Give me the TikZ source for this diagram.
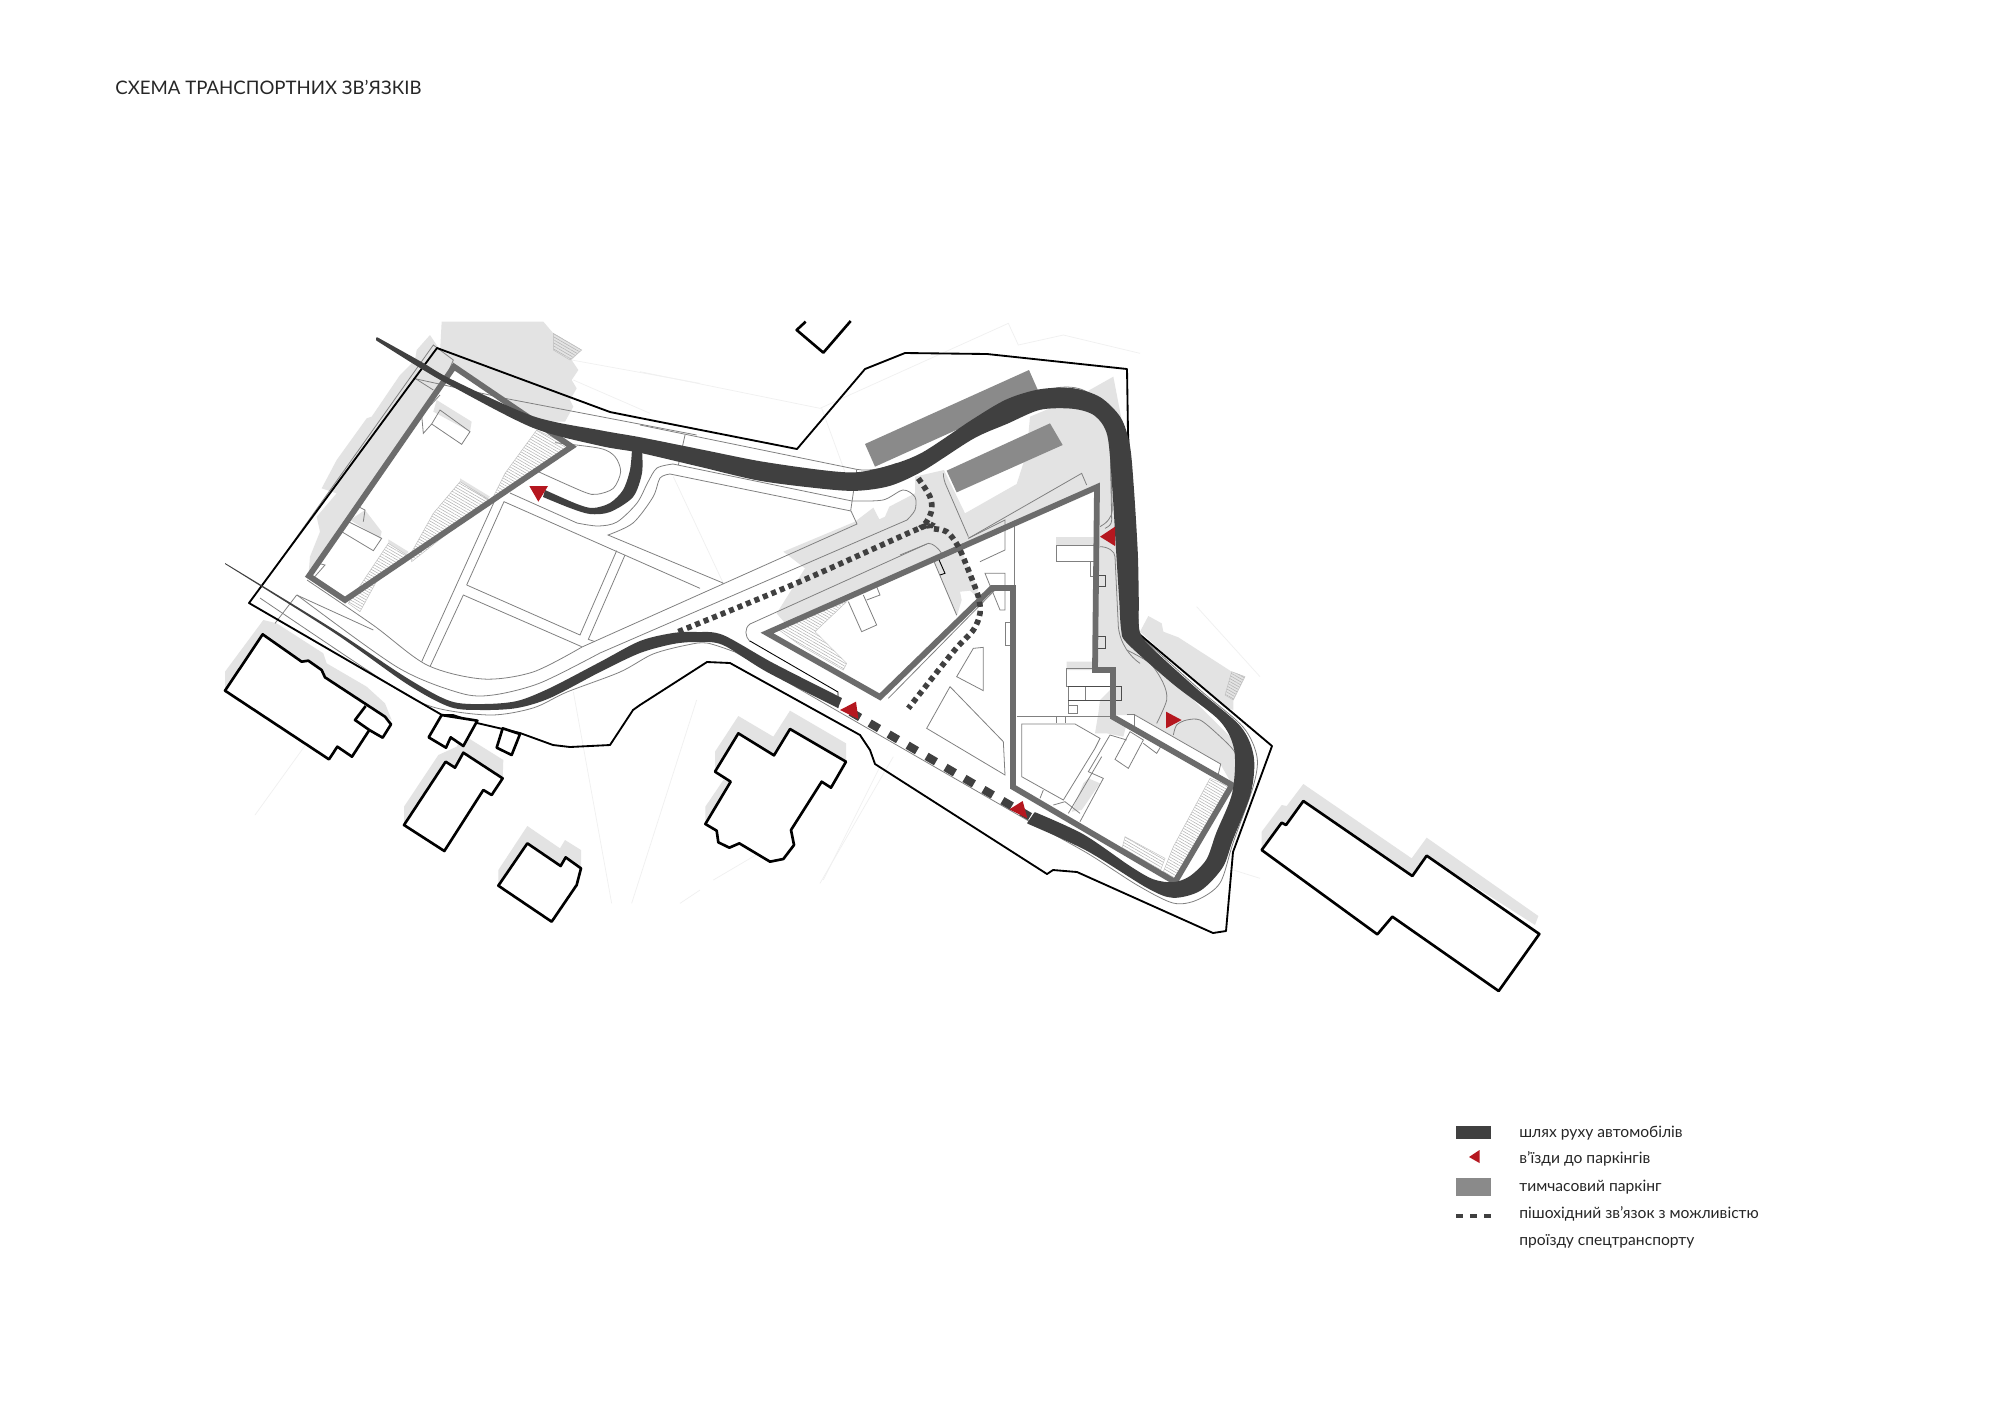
\documentclass[tikz,border=0pt]{standalone}
\usepackage{fontspec}
\setmainfont{Lato}
\usetikzlibrary{patterns.meta}
\definecolor{roadc}{HTML}{404040}
\definecolor{wallc}{HTML}{6C6C6C}
\definecolor{parkc}{HTML}{8A8A8A}
\definecolor{shadec}{HTML}{E3E3E3}
\definecolor{entryc}{HTML}{B5171F}
\definecolor{thinc}{HTML}{808080}
\definecolor{faintc}{HTML}{F0F0F0}
\tikzset{
  cropA/.style={shift={(200,300)},scale=1/3},
  cropB/.style={shift={(640,320)},scale=1/3},
  cropC/.style={shift={(820,600)},scale=1/3},
  cropD/.style={shift={(200,620)},scale=1/3},
  cropE/.style={shift={(1230,780)},scale=1/3},
  cropF/.style={shift={(1000,650)},scale=1/3},
  cropG/.style={shift={(900,440)},scale=1/3},
  cropH/.style={shift={(690,700)},scale=1/3},
  cropI/.style={shift={(230,310)},scale=1/3},
  thinline/.style={draw=thinc,line width=.45pt},
  faintline/.style={draw=faintc,line width=.4pt},
  parcel/.style={draw=black,line width=1.05pt,line join=round},
  house/.style={draw=black,fill=white,line width=1.5pt,line join=round},
  shade/.style={fill=shadec},
  parking/.style={fill=parkc},
  wall/.style={draw=wallc,line width=3.3pt,line join=miter},
  road/.style={fill=roadc,draw=roadc,line width=.9pt,line join=round},
  entry/.style={fill=entryc},
  stairs/.style={draw=thinc!50,line width=.25pt,pattern={Lines[angle=-30,distance=1.5pt,line width=.3pt]},pattern color=thinc!60},
  walkway/.style={draw=roadc,line width=3.2pt,dash pattern=on 2.9pt off 2.3pt},
  firelane/.style={draw=roadc,line width=4.6pt,dash pattern=on 6.2pt off 6.3pt},
  label/.style={inner sep=0pt,anchor=base west,text=black!85}
}
\begin{document}
\begin{tikzpicture}[x=0.02cm,y=-0.02cm]
\useasboundingbox (0,0) rectangle (2000,1414);
\fill[white] (0,0) rectangle (2000,1414);
% faint background lines
\begin{scope}[cropB]
\draw[faintline] (0,155) -- (540,265) -- (1105,10) -- (1135,75) -- (1270,45) -- (1500,100);
\draw[faintline] (545,265) -- (620,470);
\draw[faintline] (100,470) -- (250,790);
\end{scope}
\begin{scope}[cropD]
\draw[faintline] (165,585) -- (320,370);
\draw[faintline] (1120,215) -- (1235,850);
\draw[faintline] (1295,850) -- (1490,240);
\draw[faintline] (1440,850) -- (1500,810);
\end{scope}
\begin{scope}[cropC]
\draw[faintline] (0,850) -- (220,470);
\draw[faintline] (1240,810) -- (1320,835);
\draw[faintline] (1130,20) -- (1320,230);
\end{scope}
\begin{scope}[cropA]
\draw[faintline] (1115,180) -- (1500,250);
\draw[faintline] (1120,240) -- (1350,340);
\end{scope}
\begin{scope}[cropH]
\draw[faintline] (400,540) -- (570,200);
\draw[faintline] (70,540) -- (240,440);
\end{scope}
% shadows on the ground
\begin{scope}[cropA]
\fill[shade] (725,65) -- (1030,65) -- (1060,100) -- (1145,150) -- (1115,180) -- (1135,210) -- (1115,240) -- (1130,265) -- (1110,300) -- (1120,320) -- (1095,365) -- (1000,365) -- (760,200) -- (720,160) -- cycle;
\fill[shade] (690,105) -- (650,150) -- (645,180) -- (600,225) -- (515,350) -- (500,355) -- (410,480) -- (365,565) -- (410,580) -- (350,650) -- (360,695) -- (330,770) -- (325,830) -- (760,200) -- (720,150) -- cycle;
\fill[shade] (710,300) -- (815,365) -- (810,395) -- (700,335) -- cycle;
\fill[shade] (495,630) -- (545,695) -- (540,715) -- (450,660) -- cycle;
\fill[shade] (565,718) -- (625,755) -- (620,765) -- (565,730) -- cycle;
\fill[shade] (780,535) -- (870,590) -- (860,600) -- (780,545) -- cycle;
\end{scope}
\begin{scope}[cropB]
\fill[shade] (430,695) -- (645,605) -- (700,563) -- (718,598) -- (735,590) -- (748,560) -- (825,520) -- (825,470) -- (912,450) -- (975,580) -- (1130,492) -- (1150,430) -- (1165,345) -- (1170,290) -- (1230,265) -- (1340,215) -- (1420,170) -- (1445,300) -- (1450,640) -- (1470,900) -- (1500,1040) -- (1420,1050) -- (1365,1050) -- (1365,500) -- (440,915) -- (410,880) -- (495,745) -- cycle;
\fill[shade] (880,720) -- (950,890) -- (965,840) -- (960,815) -- (990,812) -- (1005,825) -- (1015,810) -- (955,670) -- cycle;
\end{scope}
\begin{scope}[cropC]
\fill[shade] (830,0) -- (900,0) -- (905,90) -- (960,140) -- (1240,420) -- (1250,500) -- (1240,560) -- (1200,490) -- (945,345) -- (880,345) -- (885,205) -- (830,210) -- cycle;
\fill[shade] (960,95) -- (985,48) -- (1025,70) -- (1030,95) -- (1075,112) -- (1235,215) -- (1275,230) -- (1240,300) -- (1240,330) -- (1210,320) -- cycle;
\end{scope}
\begin{scope}[cropF]
\fill[shade] (300,150) -- (340,110) -- (345,200) -- (380,220) -- (370,260) -- (320,250) -- (285,250) -- (295,190) -- cycle;
\fill[shade] (250,400) -- (265,385) -- (300,400) -- (245,480) -- (215,485) -- cycle;
\fill[shade] (200,35) -- (280,35) -- (285,60) -- (200,60) -- cycle;
\end{scope}
\begin{scope}[cropG]
\fill[shade] (468,290) -- (582,290) -- (582,315) -- (468,315) -- cycle;
\end{scope}
% shadows of the neighbouring houses
\begin{scope}[cropD]
\fill[shade] (75,155) -- (190,0) -- (230,10) -- (370,100) -- (380,130) -- (500,200) -- (555,250) -- (575,300) -- (555,290) -- (375,172) -- (188,43) -- (75,212) -- cycle;
\fill[shade] (612,612) -- (612,560) -- (715,405) -- (770,380) -- (790,345) -- (910,420) -- (908,475) -- (790,398) -- (765,443) -- (737,425) -- cycle;
\fill[shade] (895,797) -- (895,750) -- (982,618) -- (1080,685) -- (1095,660) -- (1143,690) -- (1143,745) -- (1097,712) -- (1082,738) -- (982,670) -- cycle;
\end{scope}
\begin{scope}[cropH]
\fill[shade] (75,215) -- (75,155) -- (145,48) -- (250,110) -- (300,32) -- (468,130) -- (468,185) -- (300,87) -- (252,166) -- (145,100) -- cycle;
\fill[shade] (46,372) -- (46,320) -- (100,240) -- (122,245) -- cycle;
\end{scope}
\begin{scope}[cropE]
\fill[shade] (95,210) -- (95,155) -- (155,75) -- (170,78) -- (220,12) -- (545,235) -- (590,173) -- (925,408) -- (915,435) -- (590,227) -- (547,288) -- (220,63) -- (168,135) -- (155,128) -- cycle;
\end{scope}
% stairs
\begin{scope}[cropA]
\path[stairs] (1010,390) -- (1115,440) -- (870,610) -- (915,520) -- cycle;
\path[stairs] (780,545) -- (870,600) -- (635,785) -- (630,765) -- (700,640) -- cycle;
\path[stairs] (565,730) -- (620,765) -- (540,825) -- (480,935) -- (445,910) -- cycle;
\path[stairs] (1060,100) -- (1145,150) -- (1110,180) -- (1060,150) -- cycle;
\end{scope}
\begin{scope}[cropB]
\path[stairs] (410,925) -- (620,845) -- (525,935) -- (580,990) -- (620,1030) -- (610,1050) -- (480,975) -- cycle;
\end{scope}
\begin{scope}[cropC]
\path[stairs] (1170,535) -- (1232,560) -- (1070,840) -- (1030,815) -- (1060,740) -- cycle;
\path[stairs] (915,710) -- (1035,775) -- (1020,815) -- (905,750) -- cycle;
\path[stairs] (1235,215) -- (1275,230) -- (1240,300) -- (1215,285) -- cycle;
\end{scope}
% paths and fields, long curves
\draw[thinline] plot[smooth] coordinates {(307,580) (373,625) (427,665) (483,679) (533,672) (582,647)} -- (857,524) -- (851,511) -- (670,474) -- plot[smooth] coordinates {(670,474) (660,478) (653,497) (633,523) (608,535)} -- (723,583);
\draw[thinline] plot[smooth] coordinates {(297,595) (397,667) (460,693) (493,695) (540,683) (600,653)} -- (907,520) -- plot[smooth] coordinates {(907,520) (915,510) (915,497) (903,490) (883,500) (852,501)} -- (673,464) -- plot[smooth] coordinates {(673,464) (657,468) (648,482) (637,503) (617,522) (598,526) (577,523)} -- (510,493);
\draw[thinline] plot[smooth] coordinates {(260,598) (387,683) (433,707) (490,715) (533,708) (567,692) (620,672) (653,654) (687,645) (707,643) (735,652)} -- (1027,820) -- plot[smooth] coordinates {(1027,820) (1087,853) (1137,885) (1173,903) (1197,900) (1220,883) (1233,843) (1253,787) (1257,757) (1243,727) (1200,690) (1139,635)};
\begin{scope}[cropA]
\draw[thinline] plot[smooth] coordinates {(1065,428) (1200,445) (1245,470) (1262,515) (1240,565) (1190,583) (1150,575) (1015,515)};
\draw[thinline] (800,855) -- (912,605) -- (1500,865);
\draw[thinline] (800,855) -- (1140,1005) -- (1250,752);
\draw[thinline] (1275,765) -- (1165,1018) -- (1185,1025);
\draw[thinline] (885,600) -- (665,1085);
\draw[thinline] (690,1100) -- (790,885) -- (1145,1040);
\draw[thinline] (640,235) -- (915,295) -- (1490,405);
\draw[thinline] (720,330) -- (810,395) -- (785,433) -- (695,372) -- cycle;
\draw[thinline] (695,372) -- (670,400) -- (665,345) -- (720,285);
\draw[thinline] (445,665) -- (545,715) -- (520,752) -- (425,695);
\draw[thinline] (465,615) -- (495,630) -- (490,665);
\draw[thinline] (290,885) -- (225,970);
\end{scope}
\begin{scope}[cropI]
\draw[thinline] (130,780) -- (610,105) -- (670,150) -- (640,220);
\draw[thinline] (555,205) -- (610,240);
\draw[thinline] (200,855) -- (430,960);
\draw[thinline] (250,805) -- (285,765) -- (265,760);
\end{scope}
\begin{scope}[cropB]
\draw[thinline] (0,315) -- (650,448) .. controls (690,455) and (730,445) .. (770,430);
\draw[thinline] (135,345) -- (115,435);
\draw[thinline] (650,450) -- (632,572);
\draw[thinline] (1195,218) .. controls (1240,200) and (1310,190) .. (1350,222);
\draw[thinline] (1410,350) -- (1415,600) .. controls (1415,615) and (1405,620) .. (1395,625);
\draw[thinline] (625,845) -- (665,935) -- (710,915) -- (670,825);
\draw[thinline] (665,815) -- (710,800) -- (720,825) -- (680,840);
\draw[thinline] (1030,982) -- (1030,1112) -- (950,1070) -- (1000,985) -- cycle;
\draw[thinline] (930,1100) -- (1090,1265) -- (1095,1365) -- (860,1225) -- cycle;
\draw[thinline] (745,1135) -- (1065,810);
\draw[thinline] (1300,1190) -- (1130,1190);
\draw[thinline] (860,672) -- (330,912) .. controls (312,925) and (315,950) .. (330,965);
\end{scope}
\draw[black,line width=.5pt] (750,641) -- (838,692) -- (838,708);
\begin{scope}[cropG]
\draw[thinline] (130,100) .. controls (130,115) and (135,130) .. (140,140) -- (205,290);
\draw[thinline] (100,360) -- (170,525);
\draw[black,line width=.5pt] (115,355) -- (135,400) -- (120,405);
\draw[thinline] (0,345) -- (85,310) .. controls (100,310) and (115,325) .. (125,340);
\draw[thinline] (205,295) -- (545,100) -- (560,135);
\draw[thinline] (343,255) -- (343,440);
\draw[thinline] (205,295) -- (315,240) -- (315,330) -- (240,365);
\draw[thinline] (255,400) -- (315,400) -- (315,510) -- (300,510) -- cycle;
\draw[thinline] (315,548) -- (335,548) -- (335,615) -- (315,615) -- cycle;
\draw[thinline] (468,315) -- (582,315) -- (582,365) -- (468,365) -- cycle;
\draw[thinline] (570,365) -- (570,408) -- (590,408);
\draw[black!70,line width=.45pt] (595,405) -- (615,405) -- (615,440) -- (595,440);
\draw[black!70,line width=.45pt] (595,590) -- (615,590) -- (615,625) -- (595,625);
\draw[thinline] (630,0) -- (637,210) .. controls (637,230) and (620,250) .. (600,260);
\draw[thinline] (600,320) .. controls (625,320) and (645,335) .. (645,350) -- (655,560) .. controls (660,610) and (690,650) .. (720,670);
\end{scope}
\begin{scope}[cropF]
\draw[thinline] (200,55) -- (335,55) -- (335,108) -- (200,108) -- cycle;
\draw[thinline] (205,110) -- (205,190);
\draw[black!70,line width=.45pt] (205,110) -- (365,110) -- (365,150) -- (205,150);
\draw[thinline] (255,110) -- (255,150);
\draw[thinline] (205,165) -- (232,165) -- (232,190) -- (205,190);
\draw[thinline] (50,200) -- (340,200);
\draw[thinline] (168,200) -- (168,220);
\draw[thinline] (197,200) -- (197,220);
\draw[thinline] (65,222) -- (225,222) -- (300,265) -- (285,295) -- (190,450) -- (65,380) -- cycle;
\draw[thinline] (240,515) -- (310,385) -- (265,365) -- (330,255) -- (380,270);
\draw[thinline] (205,490) -- (305,320);
\draw[thinline] (390,245) -- (430,270) -- (385,355) -- (345,328) -- cycle;
\draw[thinline] (405,195) -- (662,342) -- (655,372);
\draw[thinline] (380,192) -- (403,192) -- (403,228);
\draw[thinline] (130,420) -- (120,445);
\draw[thinline] (160,465) -- (195,455) -- (240,490);
\draw[thinline] (430,280) -- (470,310) -- (482,290);
\draw[thinline] plot[smooth] coordinates {(380,0) (450,40) (490,100) (500,150) (470,220)};
\draw[thinline] plot[smooth] coordinates {(520,255) (530,225) (560,210) (600,210) (650,250) (700,300) (715,340) (700,410)};
\end{scope}
% temporary parking
\begin{scope}[cropB]
\fill[parking] (675,372) -- (1167,150) -- (1197,218) -- (705,440) -- cycle;
\fill[parking] (920,452) -- (1230,310) -- (1268,375) -- (950,517) -- cycle;
\end{scope}
% buildings
\begin{scope}[cropA]
\draw[wall] (762,200) -- (1115,440) -- (435,900) -- (327,828) -- cycle;
\end{scope}
\draw[wall] (767,633) -- (1097,487) -- (1095,670) -- (1113,670) -- (1113,717) -- (1232,785) -- (1175,882) -- (1013,787) -- (1013,588) -- (992,588) -- (880,697) -- cycle;
% parcel
\draw[parcel] (249,603) -- (437,348) -- (610,412) -- (640,418) -- (797,449) -- (865,369) -- (905,353) -- (987,354) -- (1127,369) -- (1128,433) -- (1138,633) -- (1272,746) -- (1233,852) -- (1226,931) -- (1213,933) -- (1077,872) -- (1053,870) -- (1047,874) -- (875,764) -- (870,750) -- (860,735) -- (730,663) -- (707,662) -- (640,705) -- (633,710) -- (610,745) -- (570,747) -- (553,745) -- (520,733) -- (477,723) -- (453,715) -- (442,715) -- cycle;
% roads
\path[road] plot[smooth] coordinates {(377,338) (420,362) (453,381) (533,417) (600,431) (640,438) (700,450) (760,462) (823,471) (857,473) (890,466) (923,453) (973,420) (1007,400) (1040,390) (1073,389) (1100,398) (1120,418) (1129,445) (1133,487) (1137,553) (1138,600) (1139,632) (1153,650) (1197,690) (1240,727) (1253,757) (1250,793) (1232,840) (1222,867) (1200,890) (1173,897) (1147,887) (1087,850) (1028,823)} -- plot[smooth] coordinates {(1035,813) (1083,835) (1130,867) (1153,880) (1173,883) (1190,877) (1207,860) (1217,833) (1233,793) (1235,750) (1220,720) (1173,683) (1128,643) (1122,630) (1120,600) (1117,553) (1113,487) (1108,435) (1095,415) (1073,408) (1040,409) (1007,423) (973,438) (923,470) (890,485) (857,490) (823,488) (760,480) (700,466) (640,452) (600,445) (533,427) (453,386) (420,367) (377,340)} -- cycle;
\fill[roadc] plot[smooth] coordinates {(225,563) (333,629) (407,678) (450,701) (483,704) (517,701) (550,688) (600,662) (640,641) (673,633) (697,632) (723,635) (773,663) (842,698)} -- plot[smooth] coordinates {(838,708) (767,672) (723,645) (697,642) (673,644) (640,653) (600,672) (550,698) (517,708) (483,710) (450,707) (407,684) (333,632) (225,564)} -- cycle;
\fill[roadc] plot[smooth] coordinates {(642,450) (642,473) (633,497) (610,512) (590,514) (570,508) (543,497)} -- plot[smooth] coordinates {(545,490) (577,504) (593,508) (610,503) (623,490) (630,470) (632,449)} -- cycle;
% pedestrian links
\begin{scope}[cropB]
\draw[walkway] plot[smooth] coordinates {(115,935) (475,787) (845,622) (870,625) (920,635) (955,680) (985,750) (1015,830) (1020,880) (1000,930) (940,995) (805,1165)};
\draw[walkway] plot[smooth] coordinates {(835,475) (870,530) (875,570) (860,605) (840,625)};
\end{scope}
\begin{scope}[cropC]
\draw[firelane] (92,336) -- (630,650);
\end{scope}
% parking entries
\foreach \pA/\pB/\pC in {{cropA}/{988,558}/{1044,558,1015,605},{cropB}/{1380,650}/{1425,620,1425,678},{cropB}/{600,1170}/{648,1145,655,1197},{cropC}/{568,628}/{608,603,622,655},{cropC}/{1038,335}/{1085,360,1038,385}}{
  \begin{scope}[\pA]
  \pgfmathsetmacro{\qAx}{{\pB}[0]}\pgfmathsetmacro{\qAy}{{\pB}[1]}
  \pgfmathsetmacro{\qBx}{{\pC}[0]}\pgfmathsetmacro{\qBy}{{\pC}[1]}
  \pgfmathsetmacro{\qCx}{{\pC}[2]}\pgfmathsetmacro{\qCy}{{\pC}[3]}
  \fill[entry] (\qAx,\qAy) -- (\qBx,\qBy) -- (\qCx,\qCy) -- cycle;
  \end{scope}
}
% neighbouring houses
\begin{scope}[cropD]
\draw[house] (188,43) -- (305,125) -- (325,122) -- (365,150) -- (375,172) -- (555,290) -- (573,313) -- (548,353) -- (508,330) -- (456,410) -- (412,380) -- (387,418) -- (75,212) -- cycle;
\draw[house] (497,258) -- (465,300) -- (508,330);
\draw[house] (725,285) -- (832,302) -- (790,378) -- (752,352) -- (738,383) -- (686,352) -- cycle;
\draw[house] (908,325) -- (960,342) -- (935,405) -- (890,383) -- cycle;
\draw[house] (790,398) -- (908,475) -- (875,525) -- (850,510) -- (733,693) -- (612,615) -- (737,425) -- (765,443) -- cycle;
\draw[house] (982,670) -- (1082,738) -- (1097,712) -- (1143,745) -- (1130,795) -- (1055,905) -- (895,797) -- cycle;
\end{scope}
\begin{scope}[cropH]
\draw[house] (145,100) -- (252,166) -- (300,87) -- (468,185) -- (423,263) -- (395,245) -- (303,390) -- (312,435) -- (280,477) -- (240,485) -- (148,430) -- (118,443) -- (85,427) -- (80,392) -- (46,372) -- (122,245) -- (75,215) -- cycle;
\end{scope}
\begin{scope}[cropE]
\draw[house] (220,63) -- (547,288) -- (590,227) -- (928,462) -- (806,633) -- (487,410) -- (442,463) -- (95,210) -- (155,128) -- (168,135) -- cycle;
\end{scope}
\begin{scope}[cropB]
\draw[house,fill=none] (497,5) -- (470,30) -- (550,98) -- (632,3);
\end{scope}
% title and legend
\node[label,font=\fontsize{10.6}{14}\selectfont] (titel) at (115,94) {СХЕМА ТРАНСПОРТНИХ ЗВ’ЯЗКІВ};
\fill[roadc] (1456,1126) rectangle (1491,1139);
\fill[entry] (1469,1157) -- (1479.5,1150) -- (1479.5,1163) -- cycle;
\fill[parking] (1456,1178) rectangle (1491,1196);
\draw[roadc,line width=2.4pt,dash pattern=on 4pt off 4pt] (1456,1216) -- (1491,1216);
\foreach \yWert/\txt in {1137/шлях руху автомобілів,1163/в’їзди до паркінгів,1191/тимчасовий паркінг,1218/пішохідний зв’язок з можливістю,1245/проїзду спецтранспорту}{
  \node[label,font=\fontsize{8.9}{11}\selectfont] (leg\yWert) at (1519,\yWert) {\txt};
}
\end{tikzpicture}
\end{document}
